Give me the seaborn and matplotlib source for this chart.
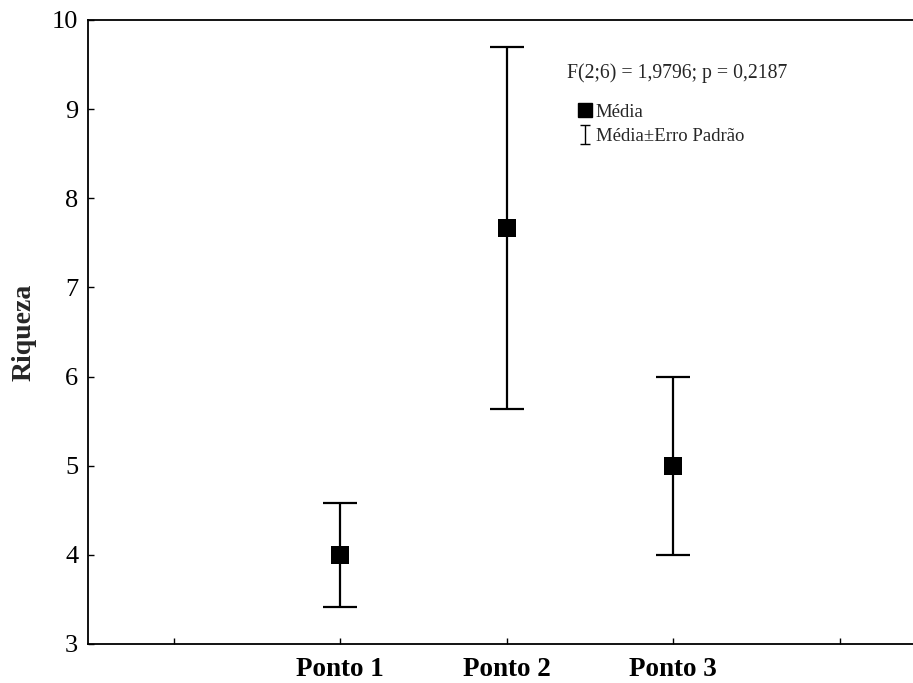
import matplotlib
matplotlib.use("Agg")
import matplotlib.pyplot as plt
import seaborn as sns
import pandas as pd
import numpy as np
from matplotlib.lines import Line2D

categories = ["Ponto 1", "Ponto 2", "Ponto 3"]
means = [4.0, 7.667, 5.0]
se = [0.58, 2.03, 1.0]
yticks = [3, 4, 5, 6, 7, 8, 9, 10]
stat_text = "F(2;6) = 1,9796; p = 0,2187"

sns.set_theme(style="white")
plt.rcParams["font.family"] = ["Liberation Serif", "DejaVu Serif"]

fig = plt.figure(figsize=(9.13, 6.83), dpi=100)
ax = fig.add_axes([88/913, 39/683, 1 - 88/913, 624/683])

df = pd.DataFrame({"Ponto": categories, "Riqueza": means})
ax.errorbar(range(len(categories)), means, yerr=se, fmt="none",
            ecolor="black", elinewidth=1.6, capsize=12.5, capthick=1.6, zorder=2)
sns.scatterplot(data=df, x="Ponto", y="Riqueza", marker="s", s=150, color="black",
                edgecolor="black", linewidth=0, ax=ax, zorder=3)

# legend-only errorbar handle with small caps
eb_leg = ax.errorbar([np.nan], [np.nan], yerr=[np.nan], fmt="none", ecolor="black",
                     elinewidth=1.0, capsize=3.8, capthick=1.0)

ax.set_ylim(3, 10)
ax.set_yticks(yticks)
ax.set_xlim(-1.514, 3.441)
ax.set_xticks([-1, 0, 1, 2, 3])
ax.set_xticklabels([""] + categories + [""], fontweight="bold", fontsize=19.5)
ax.tick_params(axis="y", labelsize=19, direction="in", length=4, width=1, pad=7,
               left=True, right=False, colors="black")
ax.tick_params(axis="x", direction="in", length=4, width=1, pad=9.5,
               bottom=True, top=False, colors="black")

for s in ["left", "bottom", "top"]:
    ax.spines[s].set_visible(True)
    ax.spines[s].set_color("black")
    ax.spines[s].set_linewidth(1.3)
ax.spines["right"].set_visible(False)

ax.set_xlabel("")
ax.set_ylabel("Riqueza", fontsize=20, fontweight="bold", labelpad=11)

ax.text(0.5806, 0.915, stat_text, transform=ax.transAxes, fontsize=14.2,
        ha="left", va="center")

h1 = Line2D([], [], marker="s", color="black", linestyle="none", markersize=10)
leg = ax.legend([h1, eb_leg], ["Média", "Média±Erro Padrão"], loc="upper left",
                bbox_to_anchor=(0.594, 0.866), frameon=False, fontsize=13.5,
                handlelength=0.75, handletextpad=0.2, labelspacing=0.38,
                borderpad=0, borderaxespad=0)

fig.savefig("out.png", dpi=100, facecolor="white")
